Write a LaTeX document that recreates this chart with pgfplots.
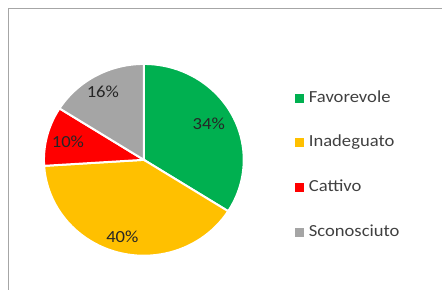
\documentclass[border=0pt]{standalone}
\usepackage{fontspec}
\setmainfont{Carlito}[FakeStretch=1.1]
\usepackage{pgfplots}
\pgfplotsset{compat=1.18}
\definecolor{cFav}{HTML}{00B050}
\definecolor{cIna}{HTML}{FFC000}
\definecolor{cCat}{HTML}{FF0000}
\definecolor{cSco}{HTML}{A5A5A5}
\definecolor{frameC}{HTML}{A6A6A6}
\definecolor{labC}{HTML}{262626}
\definecolor{legC}{HTML}{404040}
\begin{document}
\begin{tikzpicture}
\begin{axis}[
  x=1bp, y=1bp, xmin=0, xmax=442, ymin=0, ymax=290,
  hide axis, clip=false,
  legend cell align=left,
  legend image code/.code={\fill[#1] (0bp,-4.5bp) rectangle (9bp,4.5bp);},
  legend style={draw=none, fill=none, at={(axis cs:292,202)}, anchor=north west,
    font=\fontsize{17}{20}\selectfont, text=legC,
    nodes={inner sep=0pt, text height=12bp, text depth=4bp},
    row sep=28.7bp,
    /tikz/every odd column/.append style={column sep=5bp}},
]
\addplot[draw=none, forget plot] coordinates {(0,0) (442,290)};
\addplot[frameC, line width=1bp, forget plot] coordinates {(8.5,0) (8.5,281) (442,281)};
\begin{scope}[shift={(axis cs:144,130)}, yscale=0.96]
\fill[cFav, draw=white, line width=2bp] (0,0) -- (90:100bp) arc[start angle=90, delta angle=-34*3.6, radius=100bp] -- cycle;
\fill[cIna, draw=white, line width=2bp] (0,0) -- (-32.4:100bp) arc[start angle=-32.4, delta angle=-40*3.6, radius=100bp] -- cycle;
\fill[cCat, draw=white, line width=2bp] (0,0) -- (-176.4:100bp) arc[start angle=-176.4, delta angle=-10*3.6, radius=100bp] -- cycle;
\fill[cSco, draw=white, line width=2bp] (0,0) -- (-212.4:100bp) arc[start angle=-212.4, delta angle=-16*3.6, radius=100bp] -- cycle;
\end{scope}
\node[font=\fontsize{17}{20}\selectfont, text=labC] at (axis cs:209,166) {34\%};
\node[font=\fontsize{17}{20}\selectfont, text=labC] at (axis cs:122.5,52.5) {40\%};
\node[font=\fontsize{17}{20}\selectfont, text=labC] at (axis cs:68,148) {10\%};
\node[font=\fontsize{17}{20}\selectfont, text=labC] at (axis cs:103,198) {16\%};
\addlegendimage{fill=cFav, draw=none}
\addlegendentry{Favorevole}
\addlegendimage{fill=cIna, draw=none}
\addlegendentry{Inadeguato}
\addlegendimage{fill=cCat, draw=none}
\addlegendentry{Cattivo}
\addlegendimage{fill=cSco, draw=none}
\addlegendentry{Sconosciuto}
\end{axis}
\end{tikzpicture}
\end{document}
